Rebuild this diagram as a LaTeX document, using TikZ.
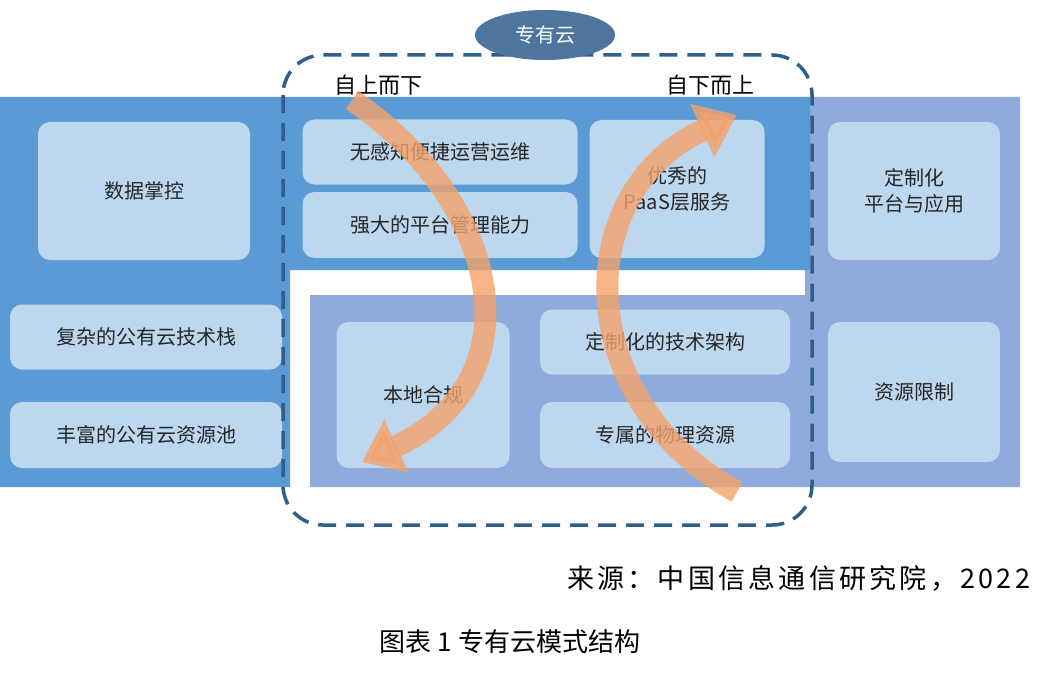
\documentclass[tikz,border=0pt]{standalone}
\usepackage{fontspec}
\setmainfont{Noto Sans CJK SC}
\usetikzlibrary{arrows.meta,shapes.geometric}
\definecolor{pA}{HTML}{5B9BD5}
\definecolor{pB}{HTML}{8FAADC}
\definecolor{bx}{HTML}{BDD7EE}
\definecolor{dk}{HTML}{2F5D8C}
\definecolor{og}{HTML}{F4A26A}
\tikzset{
 lbox/.style={fill=bx,rounded corners=12pt,draw=none,align=center,font=\fontsize{20}{26}\selectfont,text=black!85},
}
\begin{document}
\begin{tikzpicture}[x=1pt,y=-1pt]
\useasboundingbox (0,0) rectangle (1048,695);
\fill[white] (0,0) rectangle (1048,695);
% panels
\fill[pB] (805,97) -- (1020,97) -- (1020,487) -- (310,487) -- (310,295) -- (805,295) -- cycle;
\fill[pA] (0,97) -- (810,97) -- (810,270) -- (290,270) -- (290,487) -- (0,487) -- cycle;
% boxes
\node[lbox,minimum width=212,minimum height=138] (sj) at (144,191) {数据掌控};
\node[lbox,minimum width=272,minimum height=65] (fz) at (146,337) {复杂的公有云技术栈};
\node[lbox,minimum width=272,minimum height=66] (ff) at (146,435) {丰富的公有云资源池};
\node[lbox,minimum width=275,minimum height=65] (wg) at (440,152) {无感知便捷运营运维};
\node[lbox,minimum width=275,minimum height=66] (qd) at (440,225) {强大的平台管理能力};
\node[lbox,minimum width=175,minimum height=138] (yx) at (677,189) {优秀的\\PaaS层服务};
\node[lbox,minimum width=172,minimum height=138] (dz) at (914,191) {定制化\\平台与应用};
\node[lbox,minimum width=172,minimum height=140] (zy) at (914,392) {资源限制};
\node[lbox,minimum width=173,minimum height=146] (bd) at (423,395) {本地合规};
\node[lbox,minimum width=250,minimum height=65] (js) at (665,342) {定制化的技术架构};
\node[lbox,minimum width=250,minimum height=66] (wl) at (665,435) {专属的物理资源};
% dashed frame
\draw[dk,line width=3.5pt,dash pattern=on 18pt off 10pt,rounded corners=40pt] (283,55) rectangle (812,525);
\node[ellipse,fill=dk!85,minimum width=140,minimum height=50,text=white,font=\fontsize{20}{24}\selectfont] (zyy) at (545,35) {专有云};
\node[font=\fontsize{22}{24}\selectfont] (sx) at (378,85) {自上而下};
\node[font=\fontsize{22}{24}\selectfont] (xs) at (710,85) {自下而上};
% arrows
\coordinate (a1) at (352,100); \coordinate (a2) at (362,462);
\coordinate (b1) at (737,492); \coordinate (b2) at (737,115);
\draw[og,opacity=0.8,line width=22pt,-{Triangle[width=56pt,length=38pt]}] (a1) .. controls (500,200) and (540,380) .. (a2);
\draw[og,opacity=0.8,line width=22pt,-{Triangle[width=56pt,length=38pt]}] (b1) .. controls (570,400) and (570,190) .. (b2);
% captions
\node[anchor=west,inner sep=0pt,font=\fontsize{27}{30}\selectfont\addfontfeature{LetterSpace=12}] (src) at (567,578) {来源：中国信息通信研究院，2022};
\node[font=\fontsize{26}{30}\selectfont] (cap) at (510,642) {图表 1 专有云模式结构};
\end{tikzpicture}
\end{document}
